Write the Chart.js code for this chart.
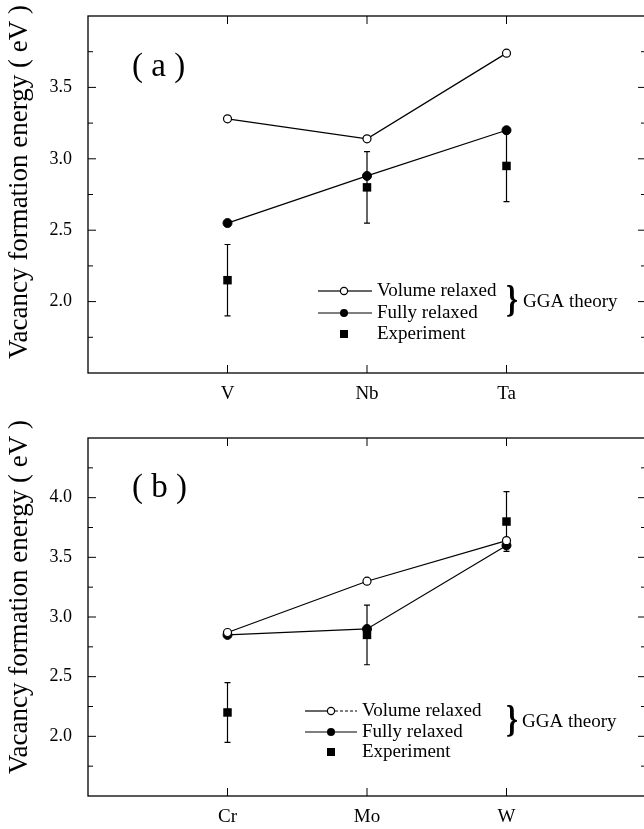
<!DOCTYPE html>
<html>
<head>
<meta charset="utf-8">
<script src="https://cdn.jsdelivr.net/npm/chart.js@4.4.1/dist/chart.umd.min.js"></script>
<style>
    html, body { margin: 0; padding: 0; background: #fff; overflow: hidden; width: 644px; height: 829px; }
    .panel { position: absolute; left: 0; }
    #panel_a { top: 0; }
    #panel_b { top: 415px; }
</style>
</head>
<body>
<div class="panel" id="panel_a"><canvas id="panel_a_canvas" width="652" height="415"></canvas></div>
<div class="panel" id="panel_b"><canvas id="panel_b_canvas" width="652" height="414"></canvas></div>
<script>
const y_title = "Vacancy formation energy ( eV )";
const series_names = ["Volume relaxed", "Fully relaxed", "Experiment"];
const group_label = "GGA theory";

// (a) V, Nb, Ta
const categories_a = ["V", "Nb", "Ta"];
const volume_relaxed_a = [3.28, 3.14, 3.74];
const fully_relaxed_a = [2.55, 2.88, 3.20];
const experiment_a = [2.15, 2.80, 2.95];
const experiment_error_a = [0.25, 0.25, 0.25];
const y_ticks_a = [2.0, 2.5, 3.0, 3.5];

// (b) Cr, Mo, W
const categories_b = ["Cr", "Mo", "W"];
const volume_relaxed_b = [2.87, 3.30, 3.64];
const fully_relaxed_b = [2.85, 2.90, 3.60];
const experiment_b = [2.20, 2.85, 3.80];
const experiment_error_b = [0.25, 0.25, 0.25];
const y_ticks_b = [2.0, 2.5, 3.0, 3.5, 4.0];

const serif = "'Liberation Serif', 'Times New Roman', serif";
const ink = "#000";

function to_points(values) {
    return values.map((v, i) => ({x: i + 1, y: v}));
}

function make_panel_plugin(panel) {
    return {
        id: 'panel_decor',
        beforeDatasetsDraw(chart) {
            const ctx = chart.ctx;
            const xs = chart.scales.x;
            const ys = chart.scales.y;
            ctx.save();
            ctx.strokeStyle = ink;
            ctx.lineWidth = 1.2;
            panel.experiment.forEach((v, i) => {
                const x = xs.getPixelForValue(i + 1);
                const y_lo = ys.getPixelForValue(v - panel.error[i]);
                const y_hi = ys.getPixelForValue(v + panel.error[i]);
                ctx.beginPath();
                ctx.moveTo(x, y_lo); ctx.lineTo(x, y_hi);
                ctx.moveTo(x - 3, y_lo); ctx.lineTo(x + 3, y_lo);
                ctx.moveTo(x - 3, y_hi); ctx.lineTo(x + 3, y_hi);
                ctx.stroke();
            });
            ctx.restore();
        },
        afterDraw(chart) {
            const ctx = chart.ctx;
            const area = chart.chartArea;
            const xs = chart.scales.x;
            const ys = chart.scales.y;
            ctx.save();
            ctx.strokeStyle = ink;
            ctx.fillStyle = ink;

            // frame
            ctx.lineWidth = 1.3;
            ctx.strokeRect(area.left, area.top, area.right - area.left, area.bottom - area.top);

            // inward ticks
            ctx.lineWidth = 1;
            ctx.beginPath();
            panel.categories.forEach((c, i) => {
                const x = xs.getPixelForValue(i + 1);
                ctx.moveTo(x, area.bottom); ctx.lineTo(x, area.bottom - 8);
                ctx.moveTo(x, area.top); ctx.lineTo(x, area.top + 8);
            });
            for (let v = panel.y_min + 0.25; v < panel.y_max - 1e-6; v += 0.25) {
                const y = ys.getPixelForValue(v);
                const major = panel.y_ticks.some(t => Math.abs(t - v) < 1e-6);
                const len = major ? 8 : 5;
                ctx.moveTo(area.left, y); ctx.lineTo(area.left + len, y);
                ctx.moveTo(area.right, y); ctx.lineTo(area.right - len, y);
            }
            ctx.stroke();

            // y title
            ctx.save();
            ctx.translate(20, panel.title_y);
            ctx.rotate(-Math.PI / 2);
            ctx.font = "27px " + serif;
            ctx.textAlign = "center";
            ctx.textBaseline = "middle";
            ctx.fillText(y_title, 0, 0);
            ctx.restore();

            // panel tag
            ctx.font = "33px " + serif;
            ctx.textAlign = "left";
            ctx.textBaseline = "middle";
            ctx.fillText(panel.tag, 132, panel.tag_y);

            // legend
            const lg = panel.legend;
            ctx.lineWidth = 1.2;
            // volume relaxed
            ctx.beginPath();
            ctx.moveTo(lg.x0, lg.rows[0]); ctx.lineTo(lg.mx - 4, lg.rows[0]);
            ctx.stroke();
            ctx.save();
            if (lg.dashed) { ctx.setLineDash([3, 2]); }
            ctx.beginPath();
            ctx.moveTo(lg.mx + 4, lg.rows[0]); ctx.lineTo(lg.x1, lg.rows[0]);
            ctx.stroke();
            ctx.restore();
            ctx.beginPath();
            ctx.arc(lg.mx, lg.rows[0], 3.6, 0, Math.PI * 2);
            ctx.fillStyle = "#fff"; ctx.fill();
            ctx.stroke();
            ctx.fillStyle = ink;
            // fully relaxed
            ctx.beginPath();
            ctx.moveTo(lg.x0, lg.rows[1]); ctx.lineTo(lg.x1, lg.rows[1]);
            ctx.stroke();
            ctx.beginPath();
            ctx.arc(lg.mx, lg.rows[1], 4, 0, Math.PI * 2);
            ctx.fill();
            // experiment
            ctx.fillRect(lg.mx - 4, lg.rows[2] - 4, 8, 8);

            ctx.font = "19px " + serif;
            ctx.textAlign = "left";
            ctx.textBaseline = "middle";
            series_names.forEach((name, i) => ctx.fillText(name, lg.tx, lg.rows[i]));

            ctx.save();
            ctx.translate(lg.bx, lg.gy);
            ctx.scale(0.8, 1);
            ctx.font = "bold 38px " + serif;
            ctx.fillText("}", 0, 0);
            ctx.restore();
            ctx.font = "19px " + serif;
            ctx.fillText(group_label, lg.gx, lg.gy);

            ctx.restore();
        }
    };
}

function setup_panel(canvas_id, panel) {
    let data = {
        datasets: [
            {
                label: series_names[0],
                data: to_points(panel.volume),
                showLine: true,
                borderColor: ink,
                borderWidth: 1.2,
                pointRadius: 4,
                pointBackgroundColor: "#fff",
                pointBorderColor: ink,
                pointBorderWidth: 1.2
            },
            {
                label: series_names[1],
                data: to_points(panel.fully),
                showLine: true,
                borderColor: ink,
                borderWidth: 1.2,
                pointRadius: 4.5,
                pointBackgroundColor: ink,
                pointBorderColor: ink,
                pointBorderWidth: 1
            },
            {
                label: series_names[2],
                data: to_points(panel.experiment),
                showLine: false,
                pointStyle: 'rect',
                pointRadius: 6,
                pointBackgroundColor: ink,
                pointBorderColor: ink,
                pointBorderWidth: 0
            }
        ]
    };

    let config = {
        type: 'scatter',
        data: data,
        options: {
            responsive: false,
            animation: false,
            events: [],
            layout: {
                padding: {left: 0, top: panel.top, right: 3, bottom: 0}
            },
            plugins: {
                legend: {display: false},
                tooltip: {enabled: false}
            },
            scales: {
                x: {
                    type: 'linear',
                    min: 0,
                    max: 4,
                    afterBuildTicks: (scale) => {
                        scale.ticks = panel.categories.map((c, i) => ({value: i + 1}));
                    },
                    afterFit: (scale) => {
                        scale.height = panel.x_axis_height;
                        scale.paddingLeft = 0;
                        scale.paddingRight = 0;
                    },
                    ticks: {
                        callback: (value) => panel.categories[Math.round(value) - 1],
                        font: {family: serif, size: 19},
                        color: ink,
                        padding: 10,
                        maxRotation: 0,
                        autoSkip: false
                    },
                    grid: {display: false, drawTicks: false},
                    border: {display: false}
                },
                y: {
                    type: 'linear',
                    min: panel.y_min,
                    max: panel.y_max,
                    afterBuildTicks: (scale) => {
                        scale.ticks = panel.y_ticks.map(v => ({value: v}));
                    },
                    afterFit: (scale) => {
                        scale.width = 88;
                        scale.paddingTop = 0;
                        scale.paddingBottom = 0;
                    },
                    ticks: {
                        callback: (value) => value.toFixed(1),
                        font: {family: serif, size: 18},
                        color: ink,
                        padding: 16
                    },
                    grid: {display: false, drawTicks: false},
                    border: {display: false}
                }
            }
        },
        plugins: [make_panel_plugin(panel)]
    };

    return new Chart(document.getElementById(canvas_id), config);
}

setup_panel('panel_a_canvas', {
    tag: "( a )",
    categories: categories_a,
    volume: volume_relaxed_a,
    fully: fully_relaxed_a,
    experiment: experiment_a,
    error: experiment_error_a,
    y_ticks: y_ticks_a,
    y_min: 1.5,
    y_max: 4.0,
    top: 16,
    x_axis_height: 42,
    title_y: 182,
    tag_y: 67,
    legend: {x0: 318, x1: 372, mx: 344, tx: 377, rows: [291, 313, 334], dashed: false, bx: 506, gx: 523, gy: 302}
});

setup_panel('panel_b_canvas', {
    tag: "( b )",
    categories: categories_b,
    volume: volume_relaxed_b,
    fully: fully_relaxed_b,
    experiment: experiment_b,
    error: experiment_error_b,
    y_ticks: y_ticks_b,
    y_min: 1.5,
    y_max: 4.5,
    top: 23,
    x_axis_height: 33,
    title_y: 182,
    tag_y: 73,
    legend: {x0: 305, x1: 357, mx: 331, tx: 362, rows: [296, 317, 337], dashed: true, bx: 506, gx: 522, gy: 307}
});
</script>
</body>
</html>
